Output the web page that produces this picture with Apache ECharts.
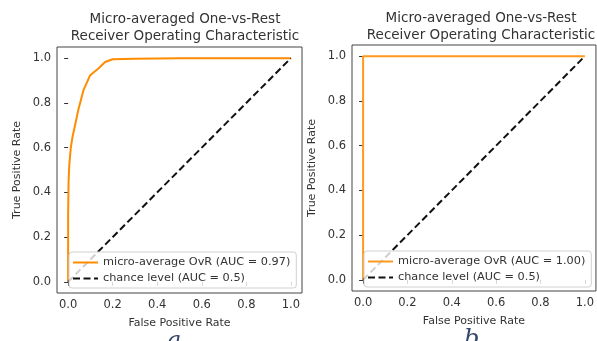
<!DOCTYPE html>
<html>
<head>
<meta charset="utf-8">
<script src="https://cdn.jsdelivr.net/npm/echarts@6/dist/echarts.min.js"></script>
<style>
  html, body { margin: 0; padding: 0; background: #fff; }
  #chart { width: 597px; height: 341px; }
</style>
</head>
<body>
<div id="chart"></div>
<script>
// ROC points
const fprA = [0, 0, 0.002, 0.005, 0.012, 0.02, 0.031, 0.046, 0.069, 0.099, 0.136, 0.166, 0.2, 0.3, 0.5, 0.7, 1.0];
const tprA = [0, 0.3, 0.45, 0.52, 0.60, 0.65, 0.70, 0.77, 0.857, 0.924, 0.954, 0.983, 0.995, 0.998, 1.0, 1.0, 1.0];
const fprB = [0, 0, 1];
const tprB = [0, 1, 1];
const chanceX = [0, 1];
const chanceY = [0, 1];
const ticks = [0, 0.2, 0.4, 0.6, 0.8, 1.0];
const nameA = 'micro-average OvR (AUC = 0.97)';
const nameB = 'micro-average OvR (AUC = 1.00)';
const nameChance = 'chance level (AUC = 0.5)';
const titleText = 'Micro-averaged One-vs-Rest\nReceiver Operating Characteristic';

const FONT = 'DejaVu Sans';
const TXT = '#333';

function pairs(xs, ys) {
  return xs.map(function(x, i) { return [x, ys[i]]; });
}

function axis(idx, isX) {
  return {
    type: 'value',
    gridIndex: idx,
    min: -0.05,
    max: 1.05,
    name: isX ? 'False Positive Rate' : 'True Positive Rate',
    nameLocation: 'middle',
    nameGap: isX ? 25 : 34,
    nameTextStyle: { fontFamily: FONT, fontSize: 11, color: TXT },
    axisLine: { show: false },
    axisTick: { show: true, inside: false, length: 4, customValues: ticks, lineStyle: { color: '#333' } },
    axisLabel: {
      customValues: ticks,
      margin: 6,
      fontFamily: FONT, fontSize: 11.5, color: TXT,
      formatter: function(v) { return v.toFixed(1); }
    },
    splitLine: { show: false }
  };
}

function legendAt(left, top, names) {
  return {
    orient: 'vertical',
    left: left,
    top: top,
    data: names,
    itemWidth: 25,
    itemHeight: 12,
    itemGap: 5,
    padding: [5, 6, 4, 3],
    backgroundColor: 'rgba(255,255,255,0.8)',
    borderColor: '#d0d0d0',
    borderWidth: 1,
    borderRadius: 3,
    itemStyle: { opacity: 0 },
    textStyle: { fontFamily: FONT, fontSize: 11.3, color: TXT },
    selectedMode: false
  };
}

const chart = echarts.init(document.getElementById('chart'));
chart.setOption({
  animation: false,
  backgroundColor: '#fff',
  title: [
    { text: titleText, left: 180, top: 6, textAlign: 'center',
      textStyle: { fontFamily: FONT, fontSize: 13.5, fontWeight: 'normal', color: TXT, lineHeight: 17 } },
    { text: titleText, left: 476, top: 5, textAlign: 'center',
      textStyle: { fontFamily: FONT, fontSize: 13.5, fontWeight: 'normal', color: TXT, lineHeight: 17 } }
  ],
  grid: [
    { left: 57, top: 47, width: 245, height: 246, show: true, borderColor: '#444', borderWidth: 1, backgroundColor: '#fff' },
    { left: 352, top: 45, width: 246, height: 246, show: true, borderColor: '#444', borderWidth: 1, backgroundColor: '#fff' }
  ],
  xAxis: [axis(0, true), axis(1, true)],
  yAxis: [axis(0, false), axis(1, false)],
  legend: [
    legendAt(69, 252, [nameA, nameChance]),
    legendAt(364, 251, [nameB, nameChance])
  ],
  series: [
    { name: nameA, type: 'line', xAxisIndex: 0, yAxisIndex: 0, data: pairs(fprA, tprA),
      symbol: 'none', lineStyle: { color: '#ff8c00', width: 2 }, itemStyle: { color: '#ff8c00' } },
    { name: nameChance, type: 'line', xAxisIndex: 0, yAxisIndex: 0, data: pairs(chanceX, chanceY),
      symbol: 'none', lineStyle: { color: '#111', width: 2, type: [7, 3.5] }, itemStyle: { color: '#111' } },
    { name: nameB, type: 'line', xAxisIndex: 1, yAxisIndex: 1, data: pairs(fprB, tprB),
      symbol: 'none', lineStyle: { color: '#ff9a1f', width: 2 }, itemStyle: { color: '#ff9a1f' } },
    { name: nameChance, type: 'line', xAxisIndex: 1, yAxisIndex: 1, data: pairs(chanceX, chanceY),
      symbol: 'none', lineStyle: { color: '#111', width: 2, type: [7, 3.5] }, itemStyle: { color: '#111' } }
  ],
  graphic: [
    { type: 'text', left: 167, top: 330, style: { text: 'a', fontFamily: 'DejaVu Serif', fontStyle: 'italic', fontSize: 24, fill: '#34456a' } },
    { type: 'text', left: 464, top: 328, style: { text: 'b', fontFamily: 'DejaVu Serif', fontStyle: 'italic', fontSize: 24, fill: '#34456a' } }
  ]
});
</script>
</body>
</html>
